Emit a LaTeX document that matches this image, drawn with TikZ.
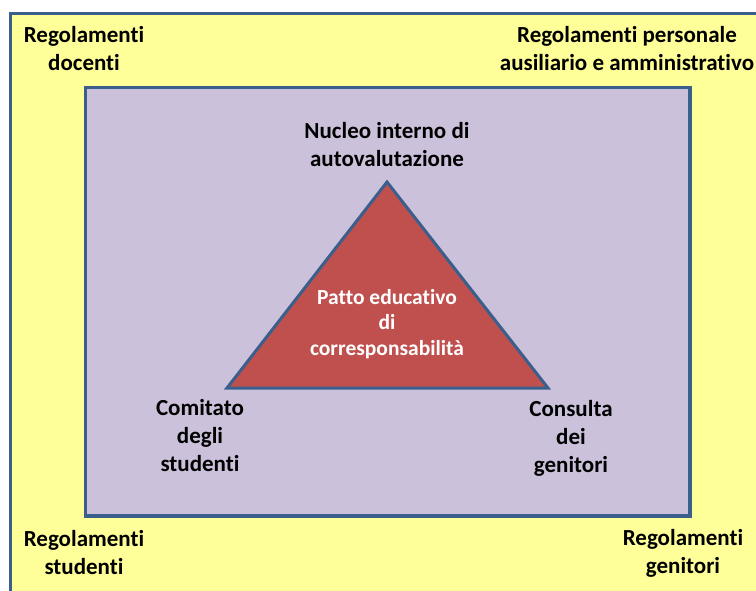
\documentclass[tikz,border=0pt]{standalone}
\usepackage{fontspec}
\setmainfont{Carlito}[RawFeature=-liga]
\definecolor{outerfill}{HTML}{FFFF99}
\definecolor{bordblue}{HTML}{3A5F8C}
\definecolor{innerfill}{HTML}{CCC1DA}
\definecolor{trifill}{HTML}{C0504D}
\tikzset{
  lbl/.style={align=center, inner sep=0pt, font=\fontsize{23}{28}\selectfont\bfseries, text=black},
  wlbl/.style={align=center, inner sep=0pt, font=\fontsize{21.5}{25.5}\selectfont\bfseries, text=white},
  frame/.style={draw=bordblue, line width=3.2pt},
}
\begin{document}
\begin{tikzpicture}[x=1pt,y=-1pt]
\useasboundingbox (0,0) rectangle (756,591);
\clip (0,0) rectangle (756,591);
\fill[white] (0,0) rectangle (756,591);
\draw[frame, fill=outerfill] (10.5,13.5) rectangle (780,610);
\draw[frame, fill=innerfill] (85.5,87.5) rectangle (690,516);
\coordinate (apex) at (387,182);
\coordinate (bl) at (227,388);
\coordinate (br) at (548,388);
\draw[frame, line width=3pt, fill=trifill, line join=miter] (apex) -- (br) -- (bl) -- cycle;

\node[lbl] (rdoc) at (84,49) {Regolamenti\\docenti};
\node[lbl] (rpers) at (627,49) {Regolamenti personale\\ausiliario e amministrativo};
\node[lbl] (niv) at (387,145) {Nucleo interno di\\autovalutazione};
\node[wlbl] (patto) at (387,324) {Patto educativo\\di\\corresponsabilità};
\node[lbl] (com) at (200,436) {Comitato\\degli\\studenti};
\node[lbl] (cons) at (571,438) {Consulta\\dei\\genitori};
\node[lbl] (rstud) at (84,553) {Regolamenti\\studenti};
\node[lbl] (rgen) at (683,553) {Regolamenti\\genitori};
\end{tikzpicture}
\end{document}
